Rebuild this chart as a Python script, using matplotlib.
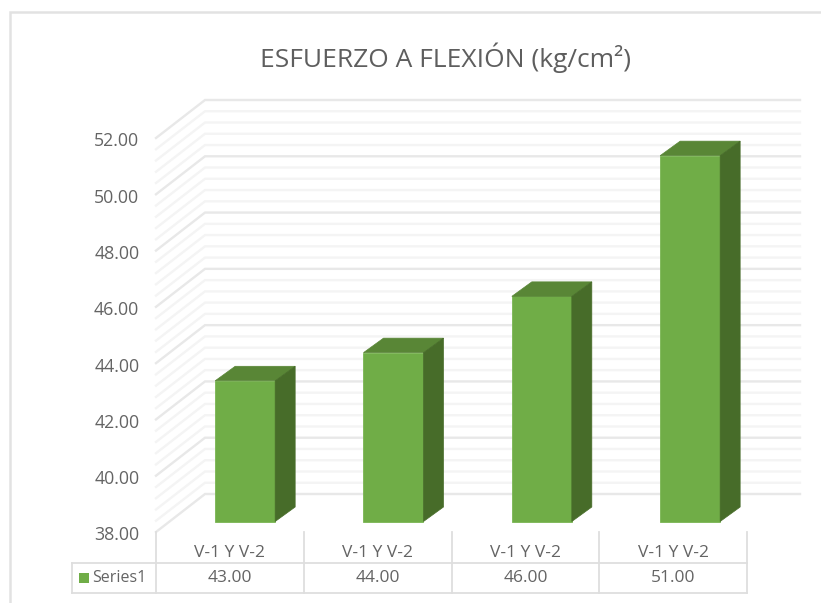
import numpy as np
import matplotlib
matplotlib.use("Agg")
import matplotlib.pyplot as plt
from matplotlib.patches import Polygon, Rectangle
from matplotlib.lines import Line2D
from matplotlib.transforms import ScaledTranslation

categories = ["V-1 Y V-2", "V-1 Y V-2", "V-1 Y V-2", "V-1 Y V-2"]
values = [43.0, 44.0, 46.0, 51.0]
series_name = "Series1"
title = "ESFUERZO A FLEXIÓN (kg/cm²)"
y_ticks = [38, 40, 42, 44, 46, 48, 50, 52]
minor_step_ticks = [38 + 0.4 * i for i in range(36)]

W, H = 821, 603
plt.rcParams["font.family"] = ["Open Sans", "DejaVu Sans"]
fig = plt.figure(figsize=(W / 100, H / 100), dpi=100, facecolor="white")

L, R, T, B = 156, 747, 138, 532
ax = fig.add_axes([L / W, 1 - B / H, (R - L) / W, (B - T) / H])
ax.set_xlim(0, 4)
ax.set_ylim(38, 52)
ax.set_facecolor("none")
for s in ax.spines.values():
    s.set_visible(False)
PX = 4 / (R - L)
PY = 14 / (B - T)

TEXT = "#646464"
GRID_MAJOR = "#E8E8E8"
GRID_MINOR = "#F4F4F4"
FRAME = "#E2E2E2"

# chart frame: top and left edges only, running off the picture
fig.add_artist(Line2D([10 / W, 10 / W, 1], [0, 1 - 11.5 / H, 1 - 11.5 / H], transform=fig.transFigure,
                      color=FRAME, lw=1.8, solid_joinstyle="miter"))

# walls: gridlines on the back wall and the side wall
wall_dx, wall_dy = 49 * PX, 38 * PY
wall_end = 4 + 53 * PX
for v in minor_step_ticks:
    major = abs(v / 2 - round(v / 2)) < 1e-6
    c, lw = (GRID_MAJOR, 1.7) if major else (GRID_MINOR, 1.7)
    ax.plot([0, wall_dx, wall_end], [v, v + wall_dy, v + wall_dy], color=c, lw=lw,
            clip_on=False, zorder=1 + major * 0.1, solid_joinstyle="miter")

# 3D bars
x = np.arange(len(values)) + 0.5
bar_w = 60 * PX
spread = 148.33 / 147.75
ox, oy = 15 * PX, 10.5 * PY
dx, dy = 20 * PX, 14.5 * PY
base = 38 + oy
heights = [v - 38 for v in values]
bar_x = x * spread + ox
ax.bar(bar_x, heights, bottom=base, width=bar_w, color="#70AD47", edgecolor="#79B552",
       lw=0.6, zorder=3)
for xi, h in zip(bar_x, heights):
    x0, x1 = xi - bar_w / 2, xi + bar_w / 2
    top = base + h
    ax.add_patch(Polygon([(x0, top), (x1, top), (x1 + dx, top + dy), (x0 + dx, top + dy)],
                         fc="#598636", ec="#598636", lw=0.5, zorder=3, clip_on=False))
    ax.add_patch(Polygon([(x1, base), (x1 + dx, base + dy), (x1 + dx, top + dy), (x1, top)],
                         fc="#476C29", ec="#476C29", lw=0.5, zorder=3, clip_on=False))

# value axis labels
ax.set_yticks(y_ticks)
ax.set_yticklabels([f"{v:.2f}" for v in y_ticks], fontsize=12.8, color=TEXT)
ax.tick_params(axis="y", length=0, pad=12)
ax.set_xticks([])
shift = ScaledTranslation(0, -1.5 / 100, fig.dpi_scale_trans)
for lab in ax.get_yticklabels():
    lab.set_transform(lab.get_transform() + shift)

# data table beneath the axes
tr = ax.get_xaxis_transform()
row1, row2 = -31 / (B - T), -61 / (B - T)
tbl = dict(color="#DEDEDE", lw=1.3, clip_on=False, transform=tr, zorder=2)
for i in range(len(values) + 1):
    ax.plot([i, i], [0, row2], **tbl)
leg_x = -84 * PX
ax.plot([leg_x, 4], [row1, row1], **tbl)
ax.plot([leg_x, 4], [row2, row2], **tbl)
ax.plot([leg_x, leg_x], [row1, row2], **tbl)
for xi, c, v in zip(x, categories, values):
    ax.text(xi, (0 + row1) / 2 - 0.015, c, transform=tr, ha="center", va="center",
            fontsize=12.5, color=TEXT)
    ax.text(xi, (row1 + row2) / 2, f"{v:.2f}", transform=tr, ha="center", va="center",
            fontsize=12.5, color=TEXT)
ax.add_patch(Rectangle((-77 * PX, row1 - 10 / (B - T)), 10 * PX, -10 / (B - T), transform=tr,
                       fc="#70AD47", ec="none", clip_on=False))
ax.text(-64 * PX, (row1 + row2) / 2, series_name, transform=tr, ha="left", va="center",
        fontsize=11.5, color=TEXT)

fig.text(445 / W, 1 - 58 / H, title, ha="center", va="center", fontsize=19, color="#5E5E5E")
fig.savefig("out.png", dpi=100, facecolor="white")
